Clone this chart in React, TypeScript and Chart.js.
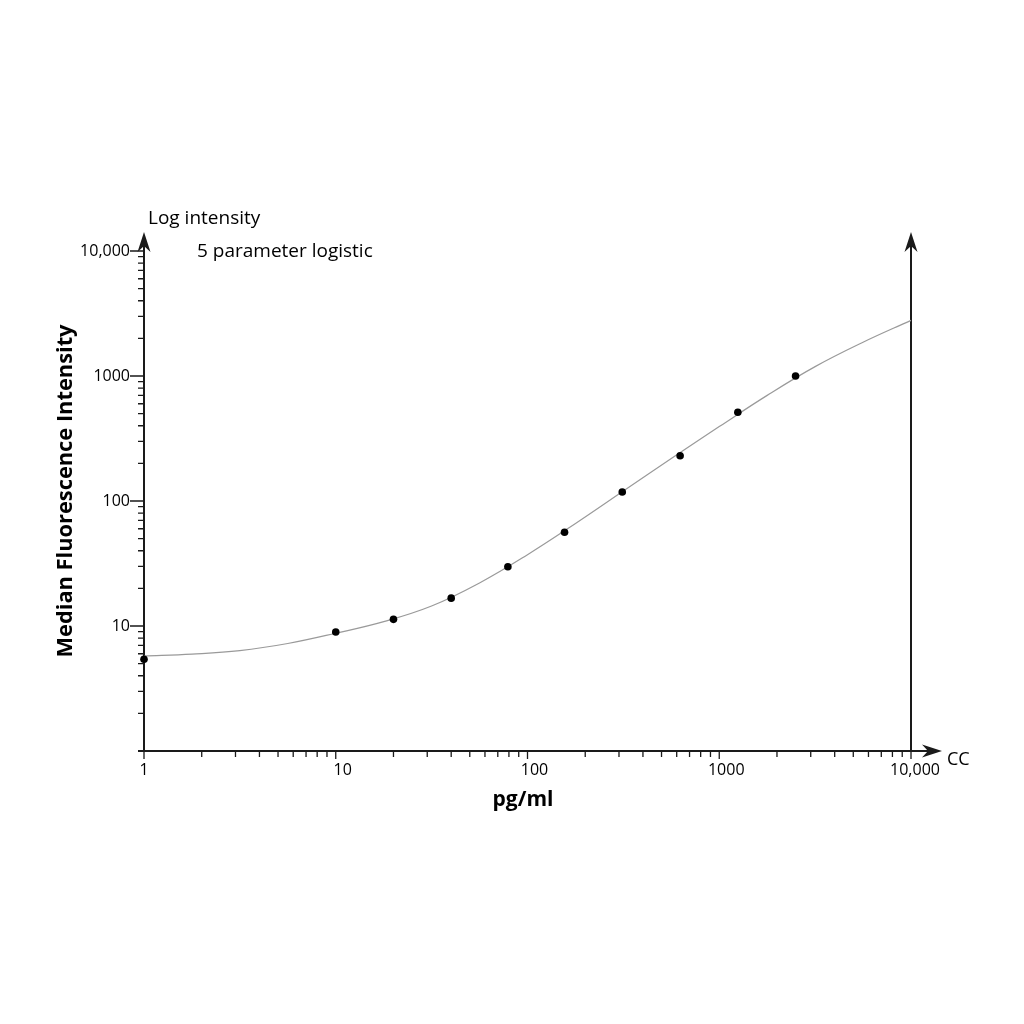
import { useEffect, useRef } from "react";
import { Chart, registerables } from "chart.js";

Chart.register(...registerables);

// measured standards (pg/ml -> MFI)
const concentrations = [1, 10, 20, 40, 79, 156, 312, 625, 1250, 2500];
const intensities = [5.42, 8.95, 11.3, 16.7, 29.8, 56.2, 118, 230, 513, 1000];

// 5PL fit curve at quarter-decade steps
const fitX = [1, 1.78, 3.16, 5.62, 10, 17.8, 31.6, 56.2, 100, 178, 316, 562, 1000, 1778, 3162, 5623, 10000];
const fitY = [5.75, 5.96, 6.35, 7.24, 8.75, 10.84, 14.45, 22.1, 37.2, 66.1, 120.2, 218.8, 393.6, 699.8, 1188.5, 1862, 2786];

const xTickValues = [1, 10, 100, 1000, 10000];
const xTickLabels = ["1", "10", "100", "1000", "10,000"];
const yTickValues = [10, 100, 1000, 10000];
const yTickLabels = ["10", "100", "1000", "10,000"];
const decades = [1, 10, 100, 1000];

const FONT = "'Open Sans', 'Noto Sans', sans-serif";
const AXIS = "#1a1a1a";

function arrowHead(ctx: CanvasRenderingContext2D, tx: number, ty: number, dir: "up" | "right") {
    const len = 20, half = 6.5, notch = 14;
    ctx.beginPath();
    if (dir === "up") {
        ctx.moveTo(tx, ty);
        ctx.lineTo(tx - half, ty + len);
        ctx.lineTo(tx, ty + notch);
        ctx.lineTo(tx + half, ty + len);
    } else {
        ctx.moveTo(tx, ty);
        ctx.lineTo(tx - len, ty - half);
        ctx.lineTo(tx - notch, ty);
        ctx.lineTo(tx - len, ty + half);
    }
    ctx.closePath();
    ctx.fill();
}

const axisDecor = {
    id: "axisDecor",
    beforeDatasetsDraw(chart: any) {
        const { ctx } = chart;
        const xs = chart.scales.x;
        const ys = chart.scales.y;
        const x0 = xs.getPixelForValue(1);
        const x1 = xs.getPixelForValue(10000);
        const y0 = ys.getPixelForValue(1);
        const yTop = ys.getPixelForValue(10000);
        const tipY = yTop - 19;
        const tipX = x1 + 31;

        ctx.save();
        ctx.strokeStyle = AXIS;
        ctx.fillStyle = AXIS;
        ctx.lineWidth = 2;
        ctx.lineCap = "butt";

        // axis lines
        ctx.beginPath();
        ctx.moveTo(x0, y0 + 1);
        ctx.lineTo(x0, tipY + 10);
        ctx.moveTo(x1, y0);
        ctx.lineTo(x1, tipY + 10);
        ctx.moveTo(x0 - 6, y0);
        ctx.lineTo(tipX - 10, y0);
        ctx.stroke();
        arrowHead(ctx, x0, tipY, "up");
        arrowHead(ctx, x1, tipY, "up");
        arrowHead(ctx, tipX, y0, "right");

        // ticks
        ctx.lineWidth = 1.3;
        ctx.beginPath();
        decades.forEach((d) => {
            for (let m = 2; m <= 9; m++) {
                const px = xs.getPixelForValue(d * m);
                ctx.moveTo(px, y0);
                ctx.lineTo(px, y0 + 6);
                const py = ys.getPixelForValue(d * m);
                ctx.moveTo(x0, py);
                ctx.lineTo(x0 - 6, py);
            }
        });
        xTickValues.forEach((v) => {
            const px = xs.getPixelForValue(v);
            ctx.moveTo(px, y0);
            ctx.lineTo(px, y0 + 8);
        });
        yTickValues.forEach((v) => {
            const py = ys.getPixelForValue(v);
            ctx.moveTo(x0, py);
            ctx.lineTo(x0 - 14, py);
        });
        ctx.stroke();

        // tick labels
        ctx.fillStyle = "#000";
        ctx.font = `16px ${FONT}`;
        ctx.textBaseline = "middle";
        ctx.textAlign = "right";
        yTickValues.forEach((v, i) => {
            ctx.fillText(yTickLabels[i], x0 - 14, ys.getPixelForValue(v));
        });
        ctx.textAlign = "center";
        xTickValues.forEach((v, i) => {
            const off = i === 0 ? 0 : i === xTickValues.length - 1 ? 4 : 7;
            ctx.fillText(xTickLabels[i], xs.getPixelForValue(v) + off, y0 + 19);
        });

        // annotations
        ctx.textBaseline = "alphabetic";
        ctx.textAlign = "left";
        ctx.font = `19px ${FONT}`;
        ctx.fillText("Log intensity", x0 + 4, 224);
        ctx.fillText("5 parameter logistic", 197, 257);
        ctx.font = `18px ${FONT}`;
        ctx.fillText("CC", tipX + 5, y0 + 14);

        // axis titles
        ctx.font = `bold 21px ${FONT}`;
        ctx.textAlign = "center";
        ctx.fillText("pg/ml", 523, 806);
        ctx.save();
        ctx.translate(72, 491);
        ctx.rotate(-Math.PI / 2);
        ctx.font = `bold 22px ${FONT}`;
        ctx.fillText("Median Fluorescence Intensity", 0, 0, 333);
        ctx.restore();

        ctx.restore();
    },
};

export default function App() {
    const canvasRef = useRef<HTMLCanvasElement>(null);

    useEffect(() => {
        if (!canvasRef.current) return;
        const chart = new Chart(canvasRef.current, {
            type: "scatter",
            data: {
                datasets: [
                    {
                        label: "5PL fit",
                        data: fitX.map((x, i) => ({ x, y: fitY[i] })),
                        showLine: true,
                        borderColor: "#9a9a9a",
                        borderWidth: 1.2,
                        pointRadius: 0,
                        tension: 0.4,
                        clip: false,
                        order: 2,
                    },
                    {
                        label: "Standards",
                        data: concentrations.map((x, i) => ({ x, y: intensities[i] })),
                        backgroundColor: "#000",
                        borderColor: "#000",
                        pointRadius: 3.8,
                        borderWidth: 0,
                        clip: false,
                        order: 1,
                    },
                ],
            },
            options: {
                responsive: false,
                animation: false,
                layout: { padding: { left: 144, right: 113, top: 251, bottom: 273 } },
                scales: {
                    x: { type: "logarithmic", min: 1, max: 10000, display: false },
                    y: { type: "logarithmic", min: 1, max: 10000, display: false },
                },
                plugins: {
                    legend: { display: false },
                    tooltip: { enabled: false },
                },
            },
            plugins: [axisDecor],
        });
        return () => chart.destroy();
    }, []);

    return (
        <div style={{ position: "absolute", left: 0, top: 0, width: 1024, height: 1024, background: "#fff" }}>
            <canvas ref={canvasRef} width={1024} height={1024} style={{ display: "block" }}></canvas>
        </div>
    );
}
